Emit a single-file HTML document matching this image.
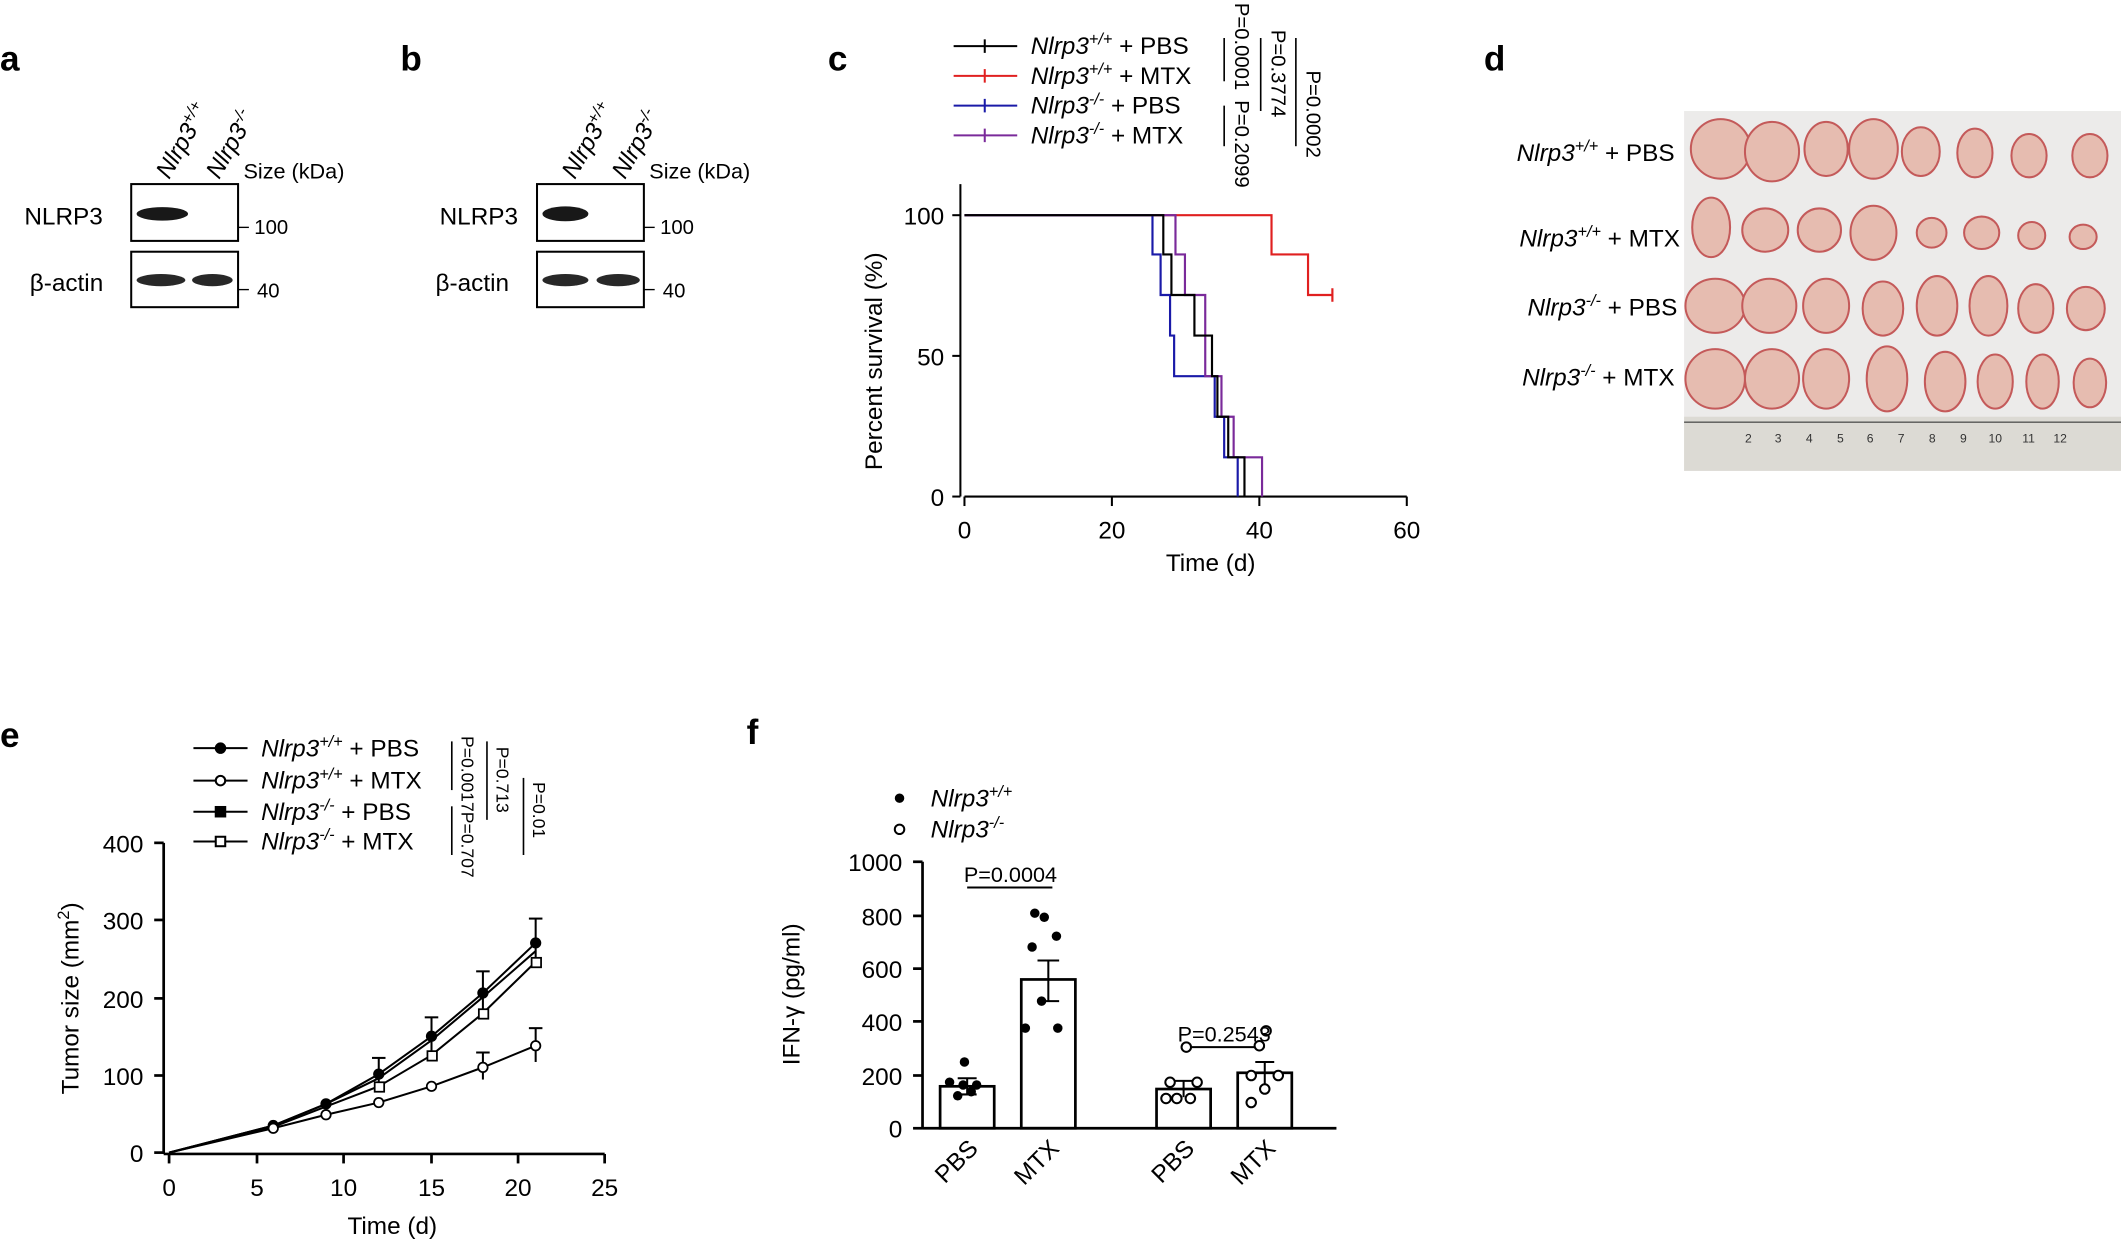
<!DOCTYPE html>
<html><head><meta charset="utf-8"><style>
html,body{margin:0;padding:0;background:#fff;}
svg{display:block;font-family:"Liberation Sans",Arial,sans-serif;}
</style></head><body>
<svg width="2121" height="1242" viewBox="0 0 1568 918" xmlns="http://www.w3.org/2000/svg">
<rect width="1568" height="918" fill="#fff"/>
<g font-weight="bold" font-size="26">
<text x="0" y="52">a</text><text x="296" y="52">b</text><text x="612" y="52">c</text><text x="1097" y="52">d</text>
<text x="0" y="552">e</text><text x="552" y="550">f</text></g>

<!-- panel a -->
<g font-size="18">
<text transform="translate(125,133) rotate(-60)" font-style="italic">Nlrp3<tspan font-size="12" dy="-7">+/+</tspan></text>
<text transform="translate(162,133) rotate(-60)" font-style="italic">Nlrp3<tspan font-size="12" dy="-7">-/-</tspan></text>
<text x="180" y="132" font-size="16">Size (kDa)</text>
<rect x="97" y="136" width="79" height="42" fill="#fff" stroke="#000" stroke-width="1.5"/>
<rect x="97" y="186" width="79" height="41" fill="#fff" stroke="#000" stroke-width="1.5"/>
<ellipse cx="120" cy="158" rx="19" ry="5" fill="#181818"/>
<ellipse cx="119" cy="207" rx="18" ry="4.5" fill="#282828"/>
<ellipse cx="157" cy="207" rx="15" ry="4.5" fill="#282828"/>
<text x="18" y="166">NLRP3</text><text x="22" y="215">β-actin</text>
<line x1="176" y1="168" x2="184" y2="168" stroke="#000"/><text x="188" y="173" font-size="15">100</text>
<line x1="176" y1="214" x2="184" y2="214" stroke="#000"/><text x="190" y="220" font-size="15">40</text>
</g>
<!-- panel b -->
<g font-size="18" transform="translate(300,0)">
<text transform="translate(125,133) rotate(-60)" font-style="italic">Nlrp3<tspan font-size="12" dy="-7">+/+</tspan></text>
<text transform="translate(162,133) rotate(-60)" font-style="italic">Nlrp3<tspan font-size="12" dy="-7">-/-</tspan></text>
<text x="180" y="132" font-size="16">Size (kDa)</text>
<rect x="97" y="136" width="79" height="42" fill="#fff" stroke="#000" stroke-width="1.5"/>
<rect x="97" y="186" width="79" height="41" fill="#fff" stroke="#000" stroke-width="1.5"/>
<ellipse cx="118" cy="158" rx="17" ry="5.5" fill="#181818"/>
<ellipse cx="118" cy="207" rx="17" ry="4.5" fill="#282828"/>
<ellipse cx="157" cy="207" rx="16" ry="4.5" fill="#282828"/>
<text x="25" y="166">NLRP3</text><text x="22" y="215">β-actin</text>
<line x1="176" y1="168" x2="184" y2="168" stroke="#000"/><text x="188" y="173" font-size="15">100</text>
<line x1="176" y1="214" x2="184" y2="214" stroke="#000"/><text x="190" y="220" font-size="15">40</text>
</g>

<!-- panel c -->
<g font-size="18">
<g stroke-width="1.5">
<line x1="705" y1="34" x2="752" y2="34" stroke="#000"/><line x1="728" y1="29" x2="728" y2="39" stroke="#000"/>
<line x1="705" y1="56" x2="752" y2="56" stroke="#e02020"/><line x1="728" y1="51" x2="728" y2="61" stroke="#e02020"/>
<line x1="705" y1="78" x2="752" y2="78" stroke="#1a1aa8"/><line x1="728" y1="73" x2="728" y2="83" stroke="#1a1aa8"/>
<line x1="705" y1="100" x2="752" y2="100" stroke="#7a2a9a"/><line x1="728" y1="95" x2="728" y2="105" stroke="#7a2a9a"/>
</g>
<text x="762" y="40"><tspan font-style="italic">Nlrp3<tspan font-size="12" dy="-7">+/+</tspan></tspan><tspan dy="7"> + PBS</tspan></text>
<text x="762" y="62"><tspan font-style="italic">Nlrp3<tspan font-size="12" dy="-7">+/+</tspan></tspan><tspan dy="7"> + MTX</tspan></text>
<text x="762" y="84"><tspan font-style="italic">Nlrp3<tspan font-size="12" dy="-7">-/-</tspan></tspan><tspan dy="7"> + PBS</tspan></text>
<text x="762" y="106"><tspan font-style="italic">Nlrp3<tspan font-size="12" dy="-7">-/-</tspan></tspan><tspan dy="7"> + MTX</tspan></text>
<g stroke="#000" stroke-width="1.2"><line x1="905" y1="28" x2="905" y2="60"/><line x1="932" y1="28" x2="932" y2="82"/><line x1="958" y1="28" x2="958" y2="108"/><line x1="905" y1="78" x2="905" y2="108"/></g>
<g font-size="15">
<text transform="translate(913,2) rotate(90)">P=0.0001</text>
<text transform="translate(940,22) rotate(90)">P=0.3774</text>
<text transform="translate(966,52) rotate(90)">P=0.0002</text>
<text transform="translate(913,74) rotate(90)">P=0.2099</text>
</g>
<g stroke="#000" stroke-width="1.5" fill="none">
<line x1="710" y1="136" x2="710" y2="367"/><line x1="713" y1="367" x2="1040" y2="367"/>
<line x1="704" y1="159" x2="710" y2="159"/><line x1="704" y1="263" x2="710" y2="263"/><line x1="704" y1="367" x2="710" y2="367"/>
<line x1="713" y1="367" x2="713" y2="374"/><line x1="822" y1="367" x2="822" y2="374"/><line x1="931" y1="367" x2="931" y2="374"/><line x1="1040" y1="367" x2="1040" y2="374"/>
</g>
<text x="698" y="166" text-anchor="end">100</text><text x="698" y="270" text-anchor="end">50</text><text x="698" y="374" text-anchor="end">0</text>
<text x="713" y="398" text-anchor="middle">0</text><text x="822" y="398" text-anchor="middle">20</text><text x="931" y="398" text-anchor="middle">40</text><text x="1040" y="398" text-anchor="middle">60</text>
<text x="895" y="422" text-anchor="middle">Time (d)</text>
<text transform="translate(652,267) rotate(-90)" text-anchor="middle">Percent survival (%)</text>
<g fill="none" stroke-width="1.6">
<polyline stroke="#e02020" points="713,159 940,159 940,188 967,188 967,218 985,218"/>
<line x1="985" y1="213" x2="985" y2="223" stroke="#e02020"/>
<polyline stroke="#1a1aa8" points="713,159 852,159 852,188 858,188 858,218 865,218 865,248 868,248 868,278 898,278 898,308 905,308 905,338 915,338 915,367"/>
<polyline stroke="#7a2a9a" points="713,159 869,159 869,188 876,188 876,218 891,218 891,278 903,278 903,308 912,308 912,338 933,338 933,367"/>
<polyline stroke="#000" points="713,159 860,159 860,188 866,188 866,218 883,218 883,248 896,248 896,278 900,278 900,308 908,308 908,338 920,338 920,367"/>
</g>
</g>

<!-- panel d -->
<g>
<rect x="1245" y="82" width="323" height="266" fill="#ecebea"/>
<rect x="1245" y="308" width="323" height="40" fill="#dcdad4"/>
<line x1="1245" y1="312" x2="1568" y2="312" stroke="#555" stroke-width="1"/>
<g font-size="9" fill="#333">
<text x="1290" y="327">2</text><text x="1312" y="327">3</text><text x="1335" y="327">4</text><text x="1358" y="327">5</text><text x="1380" y="327">6</text><text x="1403" y="327">7</text><text x="1426" y="327">8</text><text x="1449" y="327">9</text><text x="1470" y="327">10</text><text x="1495" y="327">11</text><text x="1518" y="327">12</text>
</g>
<g fill="#e6bcb0" stroke="#c45a5a" stroke-width="1.5">
<ellipse cx="1272" cy="110" rx="22" ry="22"/><ellipse cx="1310" cy="112" rx="20" ry="22"/><ellipse cx="1350" cy="110" rx="16" ry="20"/><ellipse cx="1385" cy="110" rx="18" ry="22"/><ellipse cx="1420" cy="112" rx="14" ry="18"/><ellipse cx="1460" cy="113" rx="13" ry="18"/><ellipse cx="1500" cy="115" rx="13" ry="16"/><ellipse cx="1545" cy="115" rx="13" ry="16"/>
<ellipse cx="1265" cy="168" rx="14" ry="22"/><ellipse cx="1305" cy="170" rx="17" ry="16"/><ellipse cx="1345" cy="170" rx="16" ry="16"/><ellipse cx="1385" cy="172" rx="17" ry="20"/><ellipse cx="1428" cy="172" rx="11" ry="11"/><ellipse cx="1465" cy="172" rx="13" ry="12"/><ellipse cx="1502" cy="174" rx="10" ry="10"/><ellipse cx="1540" cy="175" rx="10" ry="9"/>
<ellipse cx="1268" cy="226" rx="22" ry="20"/><ellipse cx="1308" cy="226" rx="20" ry="20"/><ellipse cx="1350" cy="226" rx="17" ry="20"/><ellipse cx="1392" cy="228" rx="15" ry="20"/><ellipse cx="1432" cy="226" rx="15" ry="22"/><ellipse cx="1470" cy="226" rx="14" ry="22"/><ellipse cx="1505" cy="228" rx="13" ry="18"/><ellipse cx="1542" cy="228" rx="14" ry="16"/>
<ellipse cx="1268" cy="280" rx="22" ry="22"/><ellipse cx="1310" cy="280" rx="20" ry="22"/><ellipse cx="1350" cy="280" rx="17" ry="22"/><ellipse cx="1395" cy="280" rx="15" ry="24"/><ellipse cx="1438" cy="282" rx="15" ry="22"/><ellipse cx="1475" cy="282" rx="13" ry="20"/><ellipse cx="1510" cy="282" rx="12" ry="20"/><ellipse cx="1545" cy="283" rx="12" ry="18"/>
</g>
<g font-size="18" text-anchor="end">
<text x="1238" y="119"><tspan font-style="italic">Nlrp3<tspan font-size="12" dy="-7">+/+</tspan></tspan><tspan dy="7"> + PBS</tspan></text>
<text x="1242" y="182"><tspan font-style="italic">Nlrp3<tspan font-size="12" dy="-7">+/+</tspan></tspan><tspan dy="7"> + MTX</tspan></text>
<text x="1240" y="233"><tspan font-style="italic">Nlrp3<tspan font-size="12" dy="-7">-/-</tspan></tspan><tspan dy="7"> + PBS</tspan></text>
<text x="1238" y="285"><tspan font-style="italic">Nlrp3<tspan font-size="12" dy="-7">-/-</tspan></tspan><tspan dy="7"> + MTX</tspan></text>
</g>
</g>

<!-- panel e -->
<g font-size="18">
<g stroke="#000" stroke-width="1.5">
<line x1="143" y1="553" x2="183" y2="553"/><circle cx="163" cy="553" r="3.5" fill="#000"/>
<line x1="143" y1="577" x2="183" y2="577"/><circle cx="163" cy="577" r="3.5" fill="#fff"/>
<line x1="143" y1="600" x2="183" y2="600"/><rect x="159.5" y="596.5" width="7" height="7" fill="#000"/>
<line x1="143" y1="622" x2="183" y2="622"/><rect x="159.5" y="618.5" width="7" height="7" fill="#fff"/>
</g>
<text x="193" y="559"><tspan font-style="italic">Nlrp3<tspan font-size="12" dy="-7">+/+</tspan></tspan><tspan dy="7"> + PBS</tspan></text>
<text x="193" y="583"><tspan font-style="italic">Nlrp3<tspan font-size="12" dy="-7">+/+</tspan></tspan><tspan dy="7"> + MTX</tspan></text>
<text x="193" y="606"><tspan font-style="italic">Nlrp3<tspan font-size="12" dy="-7">-/-</tspan></tspan><tspan dy="7"> + PBS</tspan></text>
<text x="193" y="628"><tspan font-style="italic">Nlrp3<tspan font-size="12" dy="-7">-/-</tspan></tspan><tspan dy="7"> + MTX</tspan></text>
<g stroke="#000" stroke-width="1.2"><line x1="334" y1="548" x2="334" y2="584"/><line x1="360" y1="548" x2="360" y2="606"/><line x1="387" y1="575" x2="387" y2="632"/><line x1="334" y1="596" x2="334" y2="632"/></g>
<g font-size="13">
<text transform="translate(341,544) rotate(90)">P=0.0017</text>
<text transform="translate(367,552) rotate(90)">P=0.713</text>
<text transform="translate(394,578) rotate(90)">P=0.01</text>
<text transform="translate(341,600) rotate(90)">P=0.707</text>
</g>
<g stroke="#000" stroke-width="2" fill="none">
<line x1="121" y1="623" x2="121" y2="853"/><line x1="121" y1="853" x2="447" y2="853"/>
<line x1="114" y1="623" x2="121" y2="623"/><line x1="114" y1="680" x2="121" y2="680"/><line x1="114" y1="738" x2="121" y2="738"/><line x1="114" y1="795" x2="121" y2="795"/><line x1="114" y1="852" x2="121" y2="852"/>
<line x1="125" y1="853" x2="125" y2="860"/><line x1="190" y1="853" x2="190" y2="860"/><line x1="254" y1="853" x2="254" y2="860"/><line x1="319" y1="853" x2="319" y2="860"/><line x1="383" y1="853" x2="383" y2="860"/><line x1="447" y1="853" x2="447" y2="860"/>
</g>
<g text-anchor="end"><text x="106" y="630">400</text><text x="106" y="687">300</text><text x="106" y="745">200</text><text x="106" y="802">100</text><text x="106" y="859">0</text></g>
<g text-anchor="middle"><text x="125" y="884">0</text><text x="190" y="884">5</text><text x="254" y="884">10</text><text x="319" y="884">15</text><text x="383" y="884">20</text><text x="447" y="884">25</text>
<text x="290" y="912">Time (d)</text></g>
<text transform="translate(58,738) rotate(-90)" text-anchor="middle">Tumor size (mm<tspan font-size="12" dy="-7">2</tspan><tspan dy="7">)</tspan></text>
<g stroke="#000" stroke-width="1.5" fill="none">
<polyline points="125,852 202,832 241,816 280,794 319,766 357,734 396,697"/>
<polyline points="125,852 202,834 241,824 280,815 319,803 357,789 396,773"/>
<polyline points="125,852 202,832 241,816 280,797 319,769 357,737 396,703"/>
<polyline points="125,852 202,833 241,818 280,803 319,780 357,749 396,711"/>
<line x1="280" y1="782" x2="280" y2="806"/><line x1="275" y1="782" x2="285" y2="782"/>
<line x1="319" y1="752" x2="319" y2="780"/><line x1="314" y1="752" x2="324" y2="752"/>
<line x1="357" y1="718" x2="357" y2="750"/><line x1="352" y1="718" x2="362" y2="718"/>
<line x1="396" y1="679" x2="396" y2="715"/><line x1="391" y1="679" x2="401" y2="679"/>
<line x1="357" y1="778" x2="357" y2="798"/><line x1="352" y1="778" x2="362" y2="778"/>
<line x1="396" y1="760" x2="396" y2="785"/><line x1="391" y1="760" x2="401" y2="760"/>
</g>
<g stroke="#000" stroke-width="1.3">
<g fill="#000"><circle cx="202" cy="832" r="3.5"/><circle cx="241" cy="816" r="3.5"/><circle cx="280" cy="794" r="3.5"/><circle cx="319" cy="766" r="3.5"/><circle cx="357" cy="734" r="3.5"/><circle cx="396" cy="697" r="3.5"/></g>
<g fill="#fff"><circle cx="202" cy="834" r="3.5"/><circle cx="241" cy="824" r="3.5"/><circle cx="280" cy="815" r="3.5"/><circle cx="319" cy="803" r="3.5"/><circle cx="357" cy="789" r="3.5"/><circle cx="396" cy="773" r="3.5"/></g>
<g fill="#fff"><rect x="277" y="800" width="7" height="7"/><rect x="316" y="777" width="7" height="7"/><rect x="354" y="746" width="7" height="7"/><rect x="393" y="708" width="7" height="7"/></g>
</g>
</g>

<!-- panel f -->
<g font-size="18">
<circle cx="665" cy="590" r="3.5" fill="#000"/><circle cx="665" cy="613" r="3.5" fill="#fff" stroke="#000" stroke-width="1.5"/>
<text x="688" y="596" font-style="italic">Nlrp3<tspan font-size="12" dy="-7">+/+</tspan></text>
<text x="688" y="619" font-style="italic">Nlrp3<tspan font-size="12" dy="-7">-/-</tspan></text>
<g stroke="#000" stroke-width="2" fill="none">
<line x1="682" y1="637" x2="682" y2="834"/><line x1="682" y1="834" x2="988" y2="834"/>
<line x1="675" y1="637" x2="682" y2="637"/><line x1="675" y1="677" x2="682" y2="677"/><line x1="675" y1="716" x2="682" y2="716"/><line x1="675" y1="755" x2="682" y2="755"/><line x1="675" y1="795" x2="682" y2="795"/><line x1="675" y1="834" x2="682" y2="834"/>
<rect x="695" y="803" width="40" height="31"/><rect x="755" y="724" width="40" height="110"/><rect x="855" y="805" width="40" height="29"/><rect x="915" y="793" width="40" height="41"/>
</g>
<g stroke="#000" stroke-width="1.5">
<line x1="715" y1="797" x2="715" y2="809"/><line x1="708" y1="797" x2="722" y2="797"/><line x1="708" y1="809" x2="722" y2="809"/>
<line x1="775" y1="710" x2="775" y2="740"/><line x1="767" y1="710" x2="783" y2="710"/><line x1="767" y1="740" x2="783" y2="740"/>
<line x1="875" y1="799" x2="875" y2="811"/><line x1="868" y1="799" x2="882" y2="799"/>
<line x1="935" y1="785" x2="935" y2="801"/><line x1="928" y1="785" x2="942" y2="785"/>
<line x1="715" y1="656" x2="778" y2="656"/><line x1="875" y1="774" x2="935" y2="774"/>
</g>
<g fill="#000"><circle cx="713" cy="785" r="3.5"/><circle cx="702" cy="800" r="3.5"/><circle cx="712" cy="802" r="3.5"/><circle cx="722" cy="802" r="3.5"/><circle cx="708" cy="810" r="3.5"/><circle cx="718" cy="807" r="3.5"/>
<circle cx="765" cy="675" r="3.5"/><circle cx="772" cy="678" r="3.5"/><circle cx="781" cy="692" r="3.5"/><circle cx="763" cy="700" r="3.5"/><circle cx="770" cy="740" r="3.5"/><circle cx="758" cy="760" r="3.5"/><circle cx="782" cy="760" r="3.5"/></g>
<g fill="#fff" stroke="#000" stroke-width="1.5"><circle cx="877" cy="774" r="3.5"/><circle cx="865" cy="800" r="3.5"/><circle cx="885" cy="800" r="3.5"/><circle cx="870" cy="812" r="3.5"/><circle cx="880" cy="812" r="3.5"/><circle cx="862" cy="812" r="3.5"/>
<circle cx="936" cy="762" r="3.5"/><circle cx="931" cy="773" r="3.5"/><circle cx="925" cy="795" r="3.5"/><circle cx="945" cy="795" r="3.5"/><circle cx="935" cy="805" r="3.5"/><circle cx="925" cy="815" r="3.5"/></g>
<g font-size="16" text-anchor="middle"><text x="747" y="652">P=0.0004</text><text x="905" y="770">P=0.2543</text></g>
<g text-anchor="end"><text x="667" y="644">1000</text><text x="667" y="684">800</text><text x="667" y="723">600</text><text x="667" y="762">400</text><text x="667" y="802">200</text><text x="667" y="841">0</text></g>
<text transform="translate(591,735) rotate(-90)" text-anchor="middle">IFN-γ (pg/ml)</text>
<g text-anchor="end"><text transform="translate(724,850) rotate(-45)">PBS</text><text transform="translate(784,850) rotate(-45)">MTX</text><text transform="translate(884,850) rotate(-45)">PBS</text><text transform="translate(944,850) rotate(-45)">MTX</text></g>
</g>
</svg>
</body></html>
